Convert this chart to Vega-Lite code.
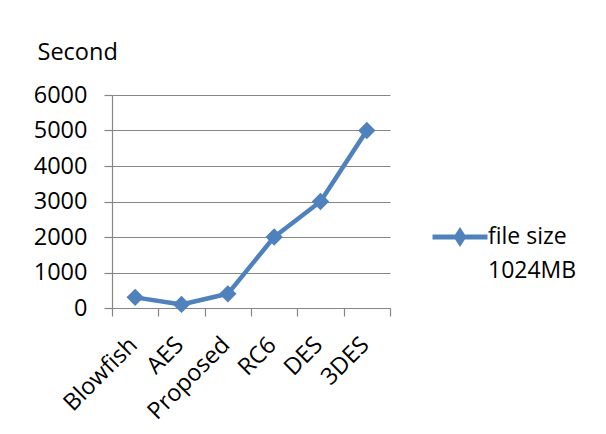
{
  "$schema": "https://vega.github.io/schema/vega-lite/v6.json",
  "width": 278,
  "height": 213,
  "autosize": "none",
  "padding": {"left": 112, "top": 95, "right": 216, "bottom": 126},
  "background": "white",
  "config": {
    "view": {"stroke": null},
    "font": "Open Sans",
    "axis": {
      "labelFont": "Open Sans",
      "labelFontSize": 23.5,
      "labelColor": "#000000",
      "titleFont": "Open Sans",
      "titleFontSize": 23.5,
      "titleFontWeight": "normal",
      "titleColor": "#000000",
      "domainColor": "#868686",
      "tickColor": "#868686",
      "gridColor": "#868686",
      "domainWidth": 1.2,
      "tickWidth": 1.2,
      "gridWidth": 1.2
    }
  },
  "data": {
    "values": [
      {"algo": "Blowfish", "time": 300, "series": "file size 1024MB"},
      {"algo": "AES", "time": 100, "series": "file size 1024MB"},
      {"algo": "Proposed", "time": 400, "series": "file size 1024MB"},
      {"algo": "RC6", "time": 2000, "series": "file size 1024MB"},
      {"algo": "DES", "time": 3000, "series": "file size 1024MB"},
      {"algo": "3DES", "time": 5000, "series": "file size 1024MB"}
    ]
  },
  "mark": {
    "type": "line",
    "strokeWidth": 4.5,
    "strokeJoin": "round",
    "strokeCap": "round",
    "point": {"shape": "diamond", "size": 300, "filled": true, "opacity": 1}
  },
  "encoding": {
    "x": {
      "field": "algo",
      "type": "nominal",
      "sort": null,
      "bandPosition": 0.5,
      "scale": {"type": "band", "paddingInner": 0, "paddingOuter": 0},
      "axis": {
        "title": null,
        "labelAngle": -45,
        "labelAlign": "right",
        "labelBaseline": "middle",
        "tickBand": "extent",
        "tickSize": 8,
        "labelPadding": 25,
        "labelOffset": -2,
        "grid": false
      }
    },
    "y": {
      "field": "time",
      "type": "quantitative",
      "scale": {"domain": [0, 6000], "nice": false},
      "axis": {
        "values": [0, 1000, 2000, 3000, 4000, 5000, 6000],
        "format": "d",
        "grid": true,
        "tickSize": 8,
        "labelPadding": 17,
        "title": "Second",
        "titleAngle": 0,
        "titleAlign": "left",
        "titleBaseline": "middle",
        "titleX": -75,
        "titleY": -43
      }
    },
    "color": {
      "field": "series",
      "type": "nominal",
      "scale": {"range": ["#4F81BD"]},
      "legend": {
        "title": null,
        "orient": "none",
        "legendX": 318,
        "legendY": 112,
        "symbolType": "M-1,0L-0.13,0L0,-0.2L0.13,0L1,0L0.13,0L0,0.2L-0.13,0Z",
        "symbolSize": 3025,
        "symbolStrokeWidth": 5,
        "symbolFillColor": "#4F81BD",
        "symbolStrokeColor": "#4F81BD",
        "symbolOpacity": 1,
        "labelExpr": "['file size', '1024MB']",
        "labelFont": "Open Sans",
        "labelFontSize": 23,
        "labelColor": "#000000",
        "labelBaseline": "top",
        "labelOffset": -2,
        "labelLimit": 300,
        "encode": {"labels": {"update": {"lineHeight": {"value": 34}, "dy": {"value": -11}}}}
      }
    }
  }
}
